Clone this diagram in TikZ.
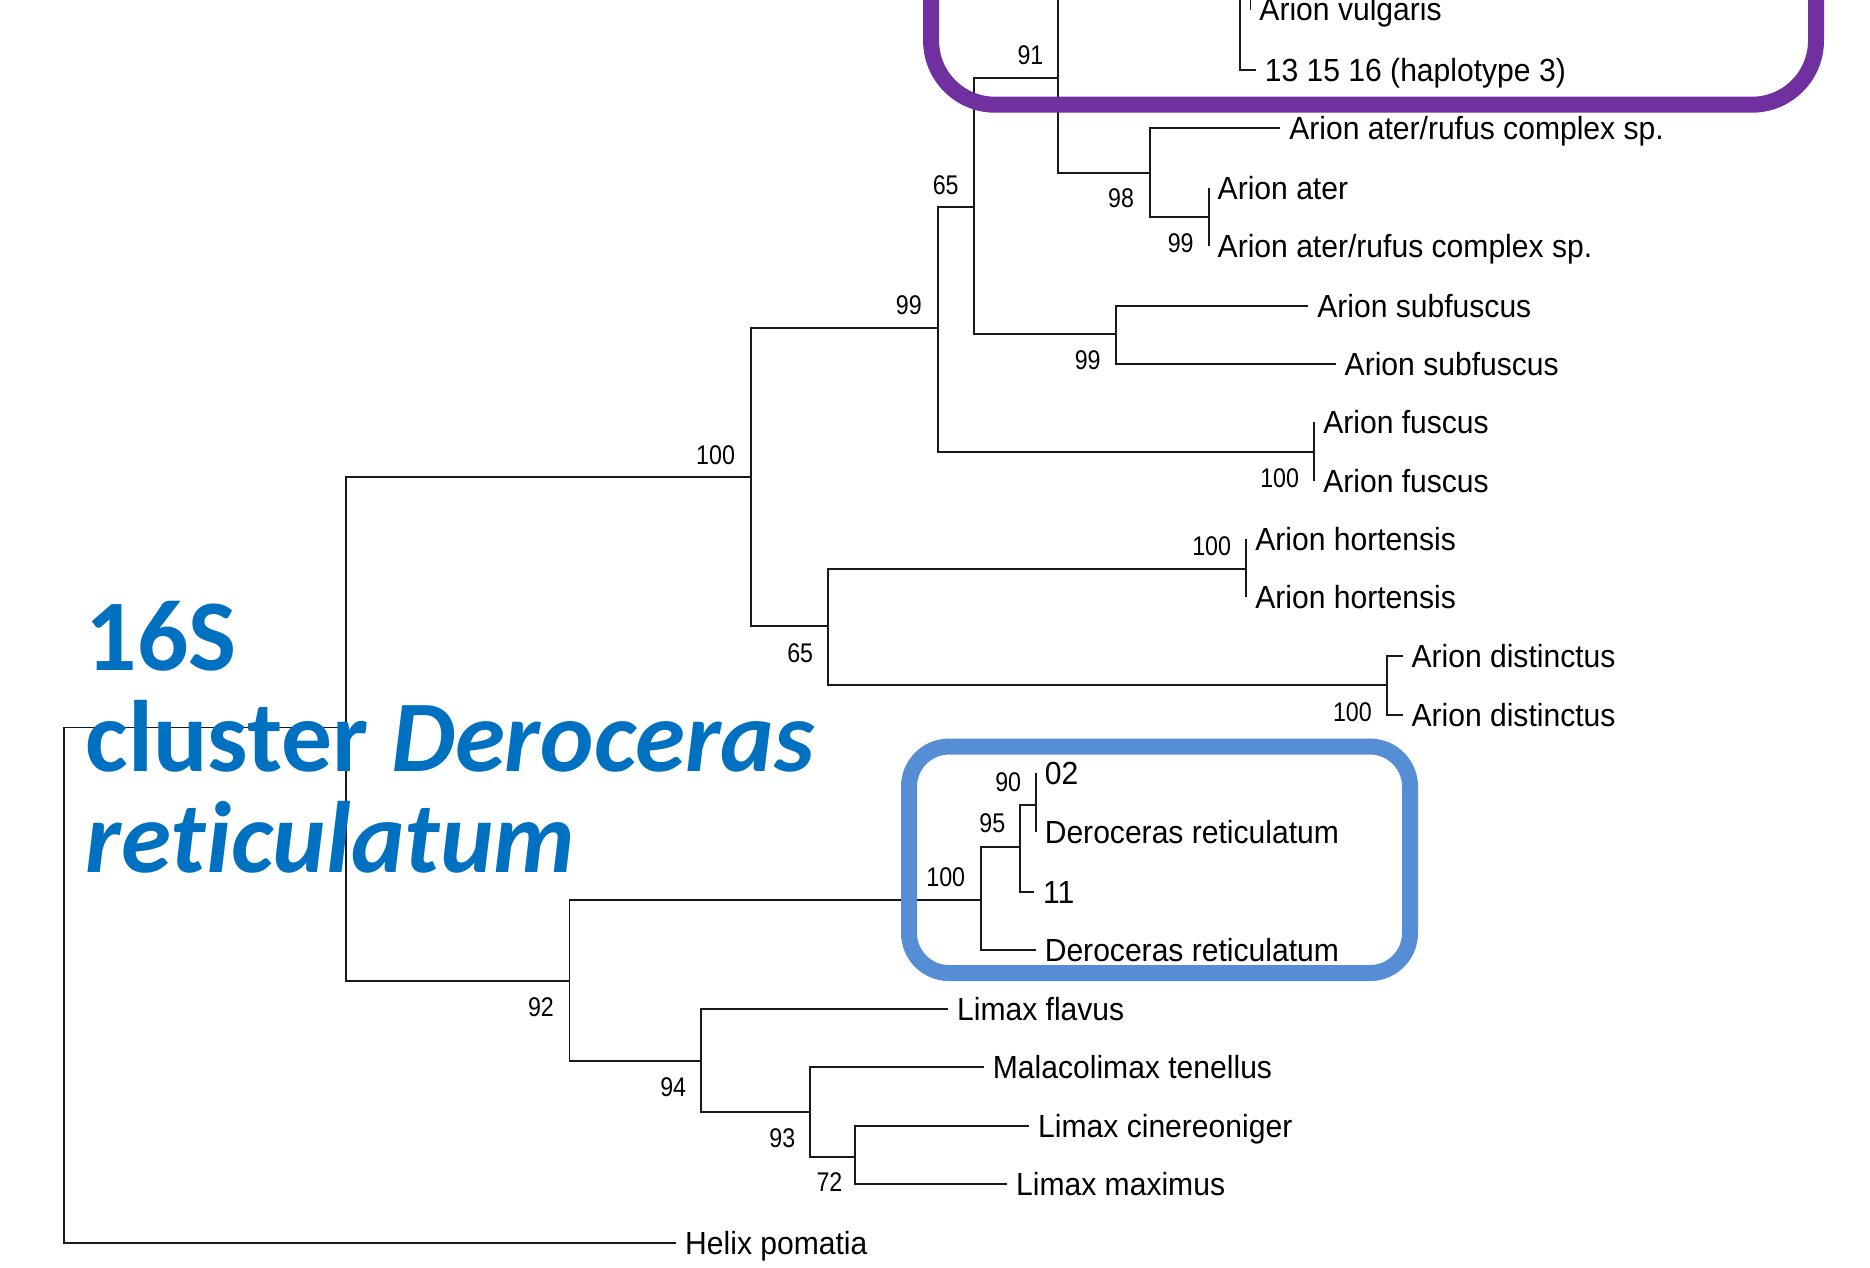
\documentclass[tikz,border=0pt]{standalone}
\usepackage{fontspec}
\setmainfont{Liberation Sans}
\newfontfamily\leaffont{Liberation Sans}[FakeStretch=0.94]
\newfontfamily\bsfont{Liberation Sans}[FakeStretch=0.86]
\newfontfamily\bigfont{Carlito}[Ligatures=NoCommon]
\definecolor{titleblue}{HTML}{0070C0}
\definecolor{boxpurple}{HTML}{7030A0}
\definecolor{boxblue}{HTML}{558ED5}
\begin{document}
\begin{tikzpicture}[x=1.1926pt,y=-1.1926pt,
  branch/.style={line width=1.9pt, draw=black!90},
  leaf/.style={anchor=west, inner xsep=9pt, inner ysep=0pt, outer sep=0pt,
    text height=22.9pt, text depth=0pt, font=\leaffont\fontsize{32}{36}\selectfont},
  bs/.style={inner sep=0pt, outer sep=0pt, text height=19.3pt, text depth=0pt,
    font=\bsfont\fontsize{27}{30}\selectfont},
  titleline/.style={anchor=base west, inner sep=0pt, outer sep=0pt, text=titleblue,
    font=\bigfont\bfseries\fontsize{101.5}{102}\selectfont},
  purplebox/.style={line width=16pt, draw=boxpurple, rounded corners=64pt},
  bluebox/.style={line width=16pt, draw=boxblue, rounded corners=40pt}]

\useasboundingbox (0,0) rectangle (1568,1063);
\fill[white] (0,0) rectangle (1568,1063);
\clip (0,0) rectangle (1568,1063);

% internal nodes
\coordinate (root) at (54,826);
\coordinate (n290) at (290,610);
\coordinate (n630) at (630,400);
\coordinate (n478) at (477.5,822.3);
\coordinate (n786) at (786.5,275);
\coordinate (n694) at (694,525);
\coordinate (n817) at (817,173.3);
\coordinate (n1102) at (1102,378.7);
\coordinate (n888) at (887,65.7);
\coordinate (n936) at (936,280);
\coordinate (nTop) at (1000,-60);
\coordinate (n1040) at (1039.5,-30);
\coordinate (n1048) at (1048.5,-40);
\coordinate (n964) at (964,145.3);
\coordinate (n1014) at (1013.5,182.2);
\coordinate (n1045) at (1045,477);
\coordinate (n1163) at (1163,574.6);
\coordinate (n822) at (822.5,754.6);
\coordinate (n855) at (855,710);
\coordinate (n868) at (868.5,675);
\coordinate (n587) at (587.5,889.7);
\coordinate (n679) at (679,932.7);
\coordinate (n717) at (717,969.9);

% leaves
\node[leaf] (vulg) at (1048.5,8) {Arion vulgaris};
\node[leaf] (hap3) at (1053,58.5) {13 15 16 (haplotype 3)};
\node[leaf] (arc1) at (1073.5,107.5) {Arion ater/rufus complex sp.};
\node[leaf] (ater) at (1013.5,157.5) {Arion ater};
\node[leaf] (arc2) at (1013.5,206) {Arion ater/rufus complex sp.};
\node[leaf] (sub1) at (1097,256.6) {Arion subfuscus};
\node[leaf] (sub2) at (1120,305) {Arion subfuscus};
\node[leaf] (fus1) at (1102,354) {Arion fuscus};
\node[leaf] (fus2) at (1102,403) {Arion fuscus};
\node[leaf] (hor1) at (1045,452) {Arion hortensis};
\node[leaf] (hor2) at (1045,501) {Arion hortensis};
\node[leaf] (dis1) at (1176,550) {Arion distinctus};
\node[leaf] (dis2) at (1176,599.5) {Arion distinctus};
\node[leaf] (d02) at (868.5,648) {02};
\node[leaf] (der1) at (868.5,698) {Deroceras reticulatum};
\node[leaf] (d11) at (867,747.7) {11};
\node[leaf] (der2) at (868.5,796.6) {Deroceras reticulatum};
\node[leaf] (flav) at (795,846) {Limax flavus};
\node[leaf] (mala) at (825,895) {Malacolimax tenellus};
\node[leaf] (cine) at (863,944) {Limax cinereoniger};
\node[leaf] (maxi) at (844.5,993) {Limax maximus};
\node[leaf] (helix) at (567,1042.5) {Helix pomatia};

% branches
\draw[branch] (root) |- (n290);
\draw[branch] (root) |- (helix.west);
\draw[branch] (n290) |- (n630);
\draw[branch] (n290) |- (n478);
\draw[branch] (n630) |- (n786);
\draw[branch] (n630) |- (n694);
\draw[branch] (n786) |- (n817);
\draw[branch] (n786) |- (n1102);
\draw[branch] (n817) |- (n888);
\draw[branch] (n817) |- (n936);
\draw[branch] (n888) |- (nTop);
\draw[branch] (n888) |- (n964);
\draw[branch] (nTop) |- (n1040);
\draw[branch] (n1040) |- (n1048);
\draw[branch] (n1040) |- (hap3.west);
\draw[branch] (n1048) |- (vulg.west);
\draw[branch] (n964) |- (arc1.west);
\draw[branch] (n964) |- (n1014);
\draw[branch] (n1014) |- (ater.west);
\draw[branch] (n1014) |- (arc2.west);
\draw[branch] (n936) |- (sub1.west);
\draw[branch] (n936) |- (sub2.west);
\draw[branch] (n1102) |- (fus1.west);
\draw[branch] (n1102) |- (fus2.west);
\draw[branch] (n694) |- (n1045);
\draw[branch] (n694) |- (n1163);
\draw[branch] (n1045) |- (hor1.west);
\draw[branch] (n1045) |- (hor2.west);
\draw[branch] (n1163) |- (dis1.west);
\draw[branch] (n1163) |- (dis2.west);
\draw[branch] (n478) |- (n822);
\draw[branch] (n478) |- (n587);
\draw[branch] (n822) |- (n855);
\draw[branch] (n822) |- (der2.west);
\draw[branch] (n855) |- (n868);
\draw[branch] (n855) |- (d11.west);
\draw[branch] (n868) |- (d02.west);
\draw[branch] (n868) |- (der1.west);
\draw[branch] (n587) |- (flav.west);
\draw[branch] (n587) |- (n679);
\draw[branch] (n679) |- (mala.west);
\draw[branch] (n679) |- (n717);
\draw[branch] (n717) |- (cine.west);
\draw[branch] (n717) |- (maxi.west);

% bootstrap values
\node[bs] (b91) at (864,46) {91};
\node[bs] (b65a) at (793,155) {65};
\node[bs] (b98) at (940,166) {98};
\node[bs] (b99a) at (990,204) {99};
\node[bs] (b99b) at (762,256) {99};
\node[bs] (b99c) at (912,302) {99};
\node[bs] (b100a) at (1073,401) {100};
\node[bs] (b100b) at (600,381) {100};
\node[bs] (b100c) at (1016,458) {100};
\node[bs] (b65b) at (671,547) {65};
\node[bs] (b100d) at (1134,597) {100};
\node[bs] (b90) at (845.4,655.4) {90};
\node[bs] (b95) at (832,690.3) {95};
\node[bs] (b100e) at (793,735.6) {100};
\node[bs] (b92) at (453.6,844) {92};
\node[bs] (b94) at (564.5,911.2) {94};
\node[bs] (b93) at (656,953.7) {93};
\node[bs] (b72) at (695.5,990.8) {72};

% highlight boxes
\draw[purplebox] (780.7,-150) rectangle (1522.7,87.8);
\draw[bluebox] (762.2,626) rectangle (1182.3,815.9);

% title
\node[titleline] (t1) at (72,562.4) {16S};
\node[titleline] (t2) at (72,647) {cluster \itshape Deroceras};
\node[titleline] (t3) at (72,731.7) {\itshape reticulatum};
\end{tikzpicture}
\end{document}
